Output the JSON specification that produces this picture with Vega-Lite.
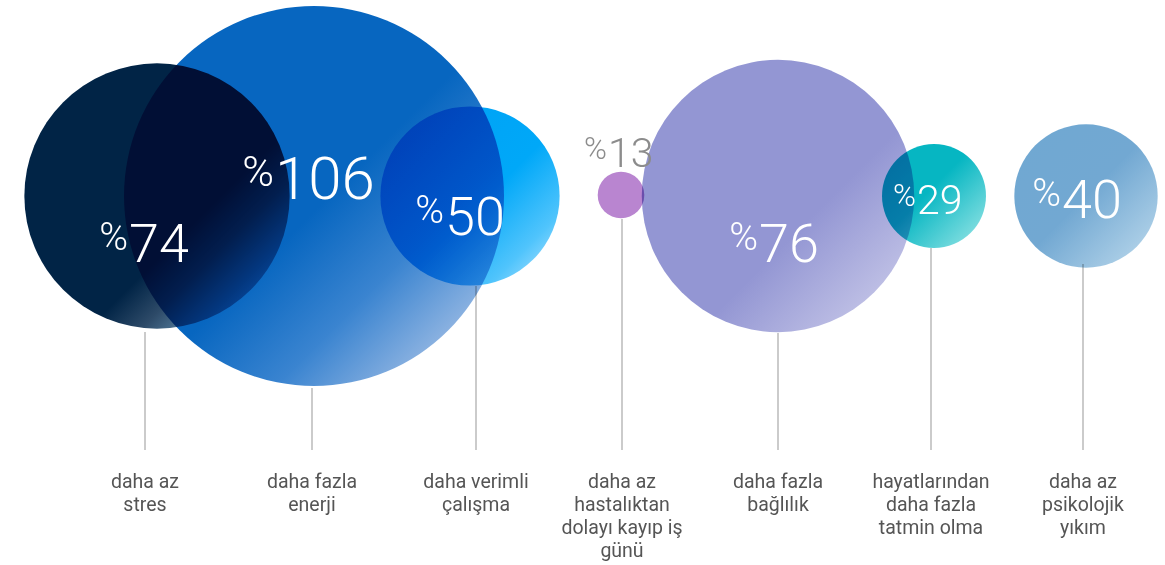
{
  "$schema": "https://vega.github.io/schema/vega-lite/v6.json",
  "width": 1165,
  "height": 565,
  "autosize": "none",
  "padding": 0,
  "background": "white",
  "config": {"view": {"stroke": null}},
  "data": {
    "values": [
      {"k": "stres", "v": 74, "cx": 157, "cy": 196, "sx": 145, "stemTop": 332, "lx": 129, "ly": 219, "label": "daha az\nstres"},
      {"k": "enerji", "v": 106, "cx": 314, "cy": 196, "sx": 312, "stemTop": 388, "lx": 275, "ly": 152, "label": "daha fazla\nenerji"},
      {"k": "verim", "v": 50, "cx": 470, "cy": 196, "sx": 476, "stemTop": 286, "lx": 445, "ly": 192, "label": "daha verimli\nçalışma"},
      {"k": "hasta", "v": 13, "cx": 621, "cy": 195, "sx": 622, "stemTop": 219, "lx": 608, "ly": 135, "label": "daha az\nhastalıktan\ndolayı kayıp iş\ngünü"},
      {"k": "bag", "v": 76, "cx": 778, "cy": 196, "sx": 778, "stemTop": 333, "lx": 759, "ly": 219, "label": "daha fazla\nbağlılık"},
      {"k": "hayat", "v": 29, "cx": 934, "cy": 196, "sx": 931, "stemTop": 248, "lx": 917, "ly": 182, "label": "hayatlarından\ndaha fazla\ntatmin olma"},
      {"k": "psiko", "v": 40, "cx": 1086, "cy": 196, "sx": 1083, "stemTop": 264, "lx": 1062, "ly": 175, "label": "daha az\npsikolojik\nyıkım"}
    ]
  },
  "resolve": {"scale": {"size": "independent"}},
  "layer": [
    {
      "mark": {"type": "rule", "color": "#b5b5b5", "strokeWidth": 1.4},
      "encoding": {
        "x": {"field": "sx", "type": "quantitative", "scale": {"domain": [0, 1165]}, "axis": null},
        "y": {"field": "stemTop", "type": "quantitative", "scale": {"domain": [0, 565], "reverse": true}, "axis": null},
        "y2": {"datum": 450}
      }
    },
    {
      "transform": [{"filter": "datum.k === 'enerji'"}],
      "mark": {"type": "circle", "opacity": 1, "strokeWidth": 0, "blend": "multiply",
        "fill": {"gradient": "linear", "x1": 0, "y1": 0, "x2": 1, "y2": 1, "stops": [
          {"offset": 0, "color": "#0766c0"}, {"offset": 0.52, "color": "#0766c0"}, {"offset": 0.7, "color": "#3a84d0"}, {"offset": 0.85, "color": "#88b0e0"}, {"offset": 1, "color": "#d8e6f5"}]}},
      "encoding": {
        "x": {"field": "cx", "type": "quantitative", "scale": {"domain": [0, 1165]}, "axis": null},
        "y": {"field": "cy", "type": "quantitative", "scale": {"domain": [0, 565], "reverse": true}, "axis": null},
        "size": {"field": "v", "type": "quantitative", "scale": {"type": "pow", "exponent": 2, "domain": [0, 106], "range": [0, 144400]}, "legend": null}
      }
    },
    {
      "transform": [{"filter": "datum.k === 'stres'"}],
      "mark": {"type": "circle", "opacity": 1, "strokeWidth": 0, "blend": "multiply",
        "fill": {"gradient": "linear", "x1": 0, "y1": 0, "x2": 1, "y2": 1, "stops": [
          {"offset": 0, "color": "#012446"}, {"offset": 0.62, "color": "#012446"}, {"offset": 0.72, "color": "#2d4a68"}, {"offset": 0.85, "color": "#6a98b8"}, {"offset": 1, "color": "#c0d4e4"}]}},
      "encoding": {
        "x": {"field": "cx", "type": "quantitative", "scale": {"domain": [0, 1165]}, "axis": null},
        "y": {"field": "cy", "type": "quantitative", "scale": {"domain": [0, 565], "reverse": true}, "axis": null},
        "size": {"field": "v", "type": "quantitative", "scale": {"type": "pow", "exponent": 2, "domain": [0, 106], "range": [0, 144400]}, "legend": null}
      }
    },
    {
      "transform": [{"filter": "datum.k === 'verim'"}],
      "mark": {"type": "circle", "opacity": 1, "strokeWidth": 0, "blend": "multiply",
        "fill": {"gradient": "linear", "x1": 0, "y1": 0, "x2": 1, "y2": 1, "stops": [
          {"offset": 0, "color": "#00a0f4"}, {"offset": 0.55, "color": "#00a8f8"}, {"offset": 0.8, "color": "#50c4fc"}, {"offset": 1, "color": "#c8ecff"}]}},
      "encoding": {
        "x": {"field": "cx", "type": "quantitative", "scale": {"domain": [0, 1165]}, "axis": null},
        "y": {"field": "cy", "type": "quantitative", "scale": {"domain": [0, 565], "reverse": true}, "axis": null},
        "size": {"field": "v", "type": "quantitative", "scale": {"type": "pow", "exponent": 2, "domain": [0, 106], "range": [0, 144400]}, "legend": null}
      }
    },
    {
      "transform": [{"filter": "datum.k === 'bag'"}],
      "mark": {"type": "circle", "opacity": 1, "strokeWidth": 0, "blend": "multiply",
        "fill": {"gradient": "linear", "x1": 0, "y1": 0, "x2": 1, "y2": 1, "stops": [
          {"offset": 0, "color": "#9396d3"}, {"offset": 0.6, "color": "#9396d3"}, {"offset": 1, "color": "#d4d4ee"}]}},
      "encoding": {
        "x": {"field": "cx", "type": "quantitative", "scale": {"domain": [0, 1165]}, "axis": null},
        "y": {"field": "cy", "type": "quantitative", "scale": {"domain": [0, 565], "reverse": true}, "axis": null},
        "size": {"field": "v", "type": "quantitative", "scale": {"type": "pow", "exponent": 2, "domain": [0, 106], "range": [0, 144400]}, "legend": null}
      }
    },
    {
      "transform": [{"filter": "datum.k === 'hasta'"}],
      "mark": {"type": "circle", "opacity": 1, "strokeWidth": 0, "blend": "multiply", "fill": "#b985d0"},
      "encoding": {
        "x": {"field": "cx", "type": "quantitative", "scale": {"domain": [0, 1165]}, "axis": null},
        "y": {"field": "cy", "type": "quantitative", "scale": {"domain": [0, 565], "reverse": true}, "axis": null},
        "size": {"field": "v", "type": "quantitative", "scale": {"type": "pow", "exponent": 2, "domain": [0, 106], "range": [0, 144400]}, "legend": null}
      }
    },
    {
      "transform": [{"filter": "datum.k === 'hayat'"}],
      "mark": {"type": "circle", "opacity": 1, "strokeWidth": 0, "blend": "multiply",
        "fill": {"gradient": "linear", "x1": 0, "y1": 0, "x2": 1, "y2": 1, "stops": [
          {"offset": 0, "color": "#06b6c2"}, {"offset": 0.45, "color": "#06b6c2"}, {"offset": 1, "color": "#a0e8e8"}]}},
      "encoding": {
        "x": {"field": "cx", "type": "quantitative", "scale": {"domain": [0, 1165]}, "axis": null},
        "y": {"field": "cy", "type": "quantitative", "scale": {"domain": [0, 565], "reverse": true}, "axis": null},
        "size": {"field": "v", "type": "quantitative", "scale": {"type": "pow", "exponent": 2, "domain": [0, 106], "range": [0, 144400]}, "legend": null}
      }
    },
    {
      "transform": [{"filter": "datum.k === 'psiko'"}],
      "mark": {"type": "circle", "opacity": 1, "strokeWidth": 0, "blend": "multiply",
        "fill": {"gradient": "linear", "x1": 0, "y1": 0, "x2": 1, "y2": 1, "stops": [
          {"offset": 0, "color": "#70a8d2"}, {"offset": 0.5, "color": "#72a8d2"}, {"offset": 1, "color": "#c0dcee"}]}},
      "encoding": {
        "x": {"field": "cx", "type": "quantitative", "scale": {"domain": [0, 1165]}, "axis": null},
        "y": {"field": "cy", "type": "quantitative", "scale": {"domain": [0, 565], "reverse": true}, "axis": null},
        "size": {"field": "v", "type": "quantitative", "scale": {"type": "pow", "exponent": 2, "domain": [0, 106], "range": [0, 144400]}, "legend": null}
      }
    },
    {
      "mark": {"type": "text", "align": "right", "baseline": "top", "font": "Roboto", "fontWeight": 300, "dx": -1},
      "encoding": {
        "x": {"field": "lx", "type": "quantitative", "scale": {"domain": [0, 1165]}, "axis": null},
        "y": {"field": "ly", "type": "quantitative", "scale": {"domain": [0, 565], "reverse": true}, "axis": null},
        "text": {"value": "%"},
        "size": {"field": "v", "type": "quantitative", "scale": {"type": "threshold", "domain": [30, 100], "range": [31, 39, 43]}, "legend": null},
        "color": {"condition": {"test": "datum.v < 20", "value": "#8c8c8c"}, "value": "#ffffff"}
      }
    },
    {
      "mark": {"type": "text", "align": "left", "baseline": "top", "font": "Roboto", "fontWeight": 300, "dx": 0},
      "encoding": {
        "x": {"field": "lx", "type": "quantitative", "scale": {"domain": [0, 1165]}, "axis": null},
        "y": {"field": "ly", "type": "quantitative", "scale": {"domain": [0, 565], "reverse": true}, "axis": null},
        "text": {"field": "v", "type": "quantitative", "format": "d"},
        "size": {"field": "v", "type": "quantitative", "scale": {"type": "threshold", "domain": [30, 100], "range": [41, 54, 60]}, "legend": null},
        "color": {"condition": {"test": "datum.v < 20", "value": "#8c8c8c"}, "value": "#ffffff"}
      }
    },
    {
      "mark": {"type": "text", "align": "center", "baseline": "alphabetic", "lineBreak": "\n", "lineHeight": 23, "font": "Roboto", "fontWeight": 400, "fontSize": 19.5, "color": "#555555"},
      "encoding": {
        "x": {"field": "sx", "type": "quantitative", "scale": {"domain": [0, 1165]}, "axis": null},
        "y": {"datum": 488, "type": "quantitative", "scale": {"domain": [0, 565], "reverse": true}, "axis": null},
        "text": {"field": "label", "type": "nominal"}
      }
    }
  ]
}
